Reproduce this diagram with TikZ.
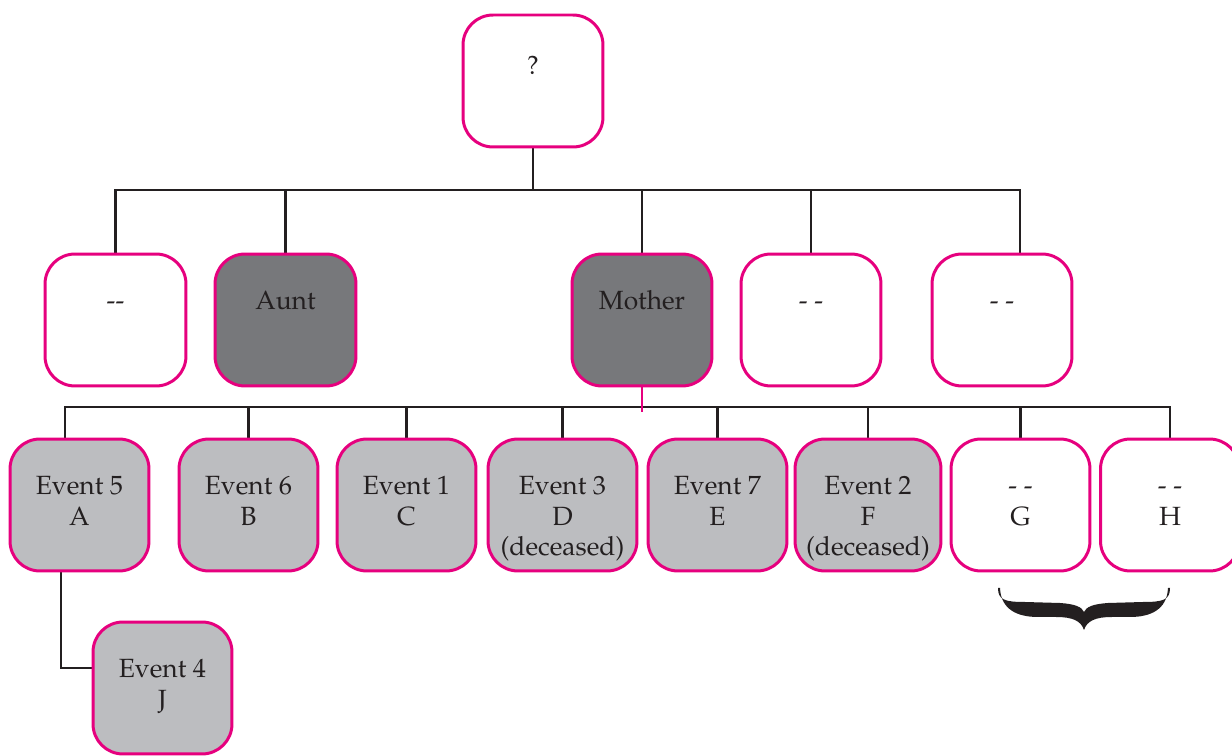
\documentclass[tikz,border=0pt]{standalone}
\usepackage[T1]{fontenc}
\usepackage{mathpazo}
\usepackage{tikz}
\usetikzlibrary{positioning, calc, backgrounds}

\definecolor{rim}{HTML}{E6007E}
\definecolor{ink}{HTML}{231F20}
\definecolor{darkfill}{HTML}{77787B}
\definecolor{lightfill}{HTML}{BCBDC0}

\begin{document}
\begin{tikzpicture}[
    x=0.02cm, y=-0.02cm,
    box/.style={rectangle, rounded corners=0.6cm, draw=rim, line width=1.7pt, fill=white, minimum width=2.8cm, minimum height=2.64cm, inner sep=0pt},
    known/.style={box, fill=lightfill},
    parent/.style={box, fill=darkfill},
    lbl/.style={anchor=north, yshift=-0.76cm, align=center, text=ink, font=\fontsize{15}{17.6}\selectfont, inner sep=0pt},
    txt/.style={label={[lbl]north:\vphantom{E}#1}},
    link/.style={draw=ink, line width=1.3pt},
]
    \useasboundingbox (0,0) rectangle (1232,756);

    % top
    \node (unknown) [box, label={[lbl, yshift=-0.08cm]north:\vphantom{E}?}] at (533,81) {};

    % second generation
    \node (sib1) [box, minimum width=2.82cm, txt={-{}-}] at (115.5,320) {};
    \node (aunt) [parent, minimum width=2.82cm, txt={Aunt}] at (285.5,320) {};
    \node (mother) [parent, txt={Mother}] at (642,320) {};
    \node (sib4) [box, txt={- -}] at (811,320) {};
    \node (sib5) [box, txt={- -}] at (1002,320) {};

    % children
    \node (ev5) [known, minimum width=2.78cm, txt={Event 5\\A}] at (79.5,505) {};
    \node (ev6) [known, minimum width=2.78cm, txt={Event 6\\B}] at (248.5,505) {};
    \node (ev1) [known, minimum width=2.78cm, txt={Event 1\\C}] at (406.5,505) {};
    \node (ev3) [known, minimum width=2.98cm, txt={Event 3\\D\\(deceased)}] at (562.5,505) {};
    \node (ev7) [known, minimum width=2.78cm, txt={Event 7\\E}] at (717.5,505) {};
    \node (ev2) [known, minimum width=2.92cm, txt={Event 2\\F\\(deceased)}] at (868,505) {};
    \node (chg) [box, minimum width=2.78cm, txt={- -\\G}] at (1020.5,505) {};
    \node (chh) [box, minimum width=2.78cm, txt={- -\\H}] at (1170,505) {};

    % grandchild
    \node (ev4) [known, minimum width=2.78cm, txt={Event 4\\J}] at (162.5,688) {};

    \coordinate (bus1) at (530,190);
    \coordinate (bus2) at (640,407);

    \begin{scope}[on background layer]
        \draw [link] (unknown.south) -- (unknown.south |- bus1);
        \draw [link] (sib1.north) -- (sib1.north |- bus1) -- ([xshift=0.36cm]sib5.north |- bus1) -- ([xshift=0.36cm]sib5.north);
        \foreach \n in {aunt, mother, sib4}
            \draw [link] (\n.north) -- (\n.north |- bus1);

        \draw [link] ([xshift=-0.29cm]ev5.north) -- ([xshift=-0.29cm]ev5.north |- bus2) -- (chh.north |- bus2) -- (chh.north);
        \foreach \n in {ev6, ev1, ev3, ev7, ev2, chg}
            \draw [link] (\n.north) -- (\n.north |- bus2);
        \draw [link, draw=rim] (mother.south) -- ($(mother.south |- bus2)+(0,5)$);

        \draw [link] ([xshift=-0.37cm]ev5.south) |- ([yshift=0.4cm]ev4.west);
    \end{scope}

    % brace under G and H
    \fill [ink] (998,588) .. controls (998,600) and (1005,602) .. (1025,602) -- (1060,603)
        .. controls (1075,604) and (1082,607) .. (1084,612)
        .. controls (1086,607) and (1093,604) .. (1108,603) -- (1143,602)
        .. controls (1163,602) and (1170,600) .. (1170,588)
        -- (1168,588) .. controls (1167,610) and (1150,617) .. (1130,617) -- (1112,617)
        .. controls (1095,617) and (1087,621) .. (1084,630)
        .. controls (1081,621) and (1073,617) .. (1056,617) -- (1038,617)
        .. controls (1018,617) and (1001,610) .. (1000,588) -- cycle;

\end{tikzpicture}
\end{document}
